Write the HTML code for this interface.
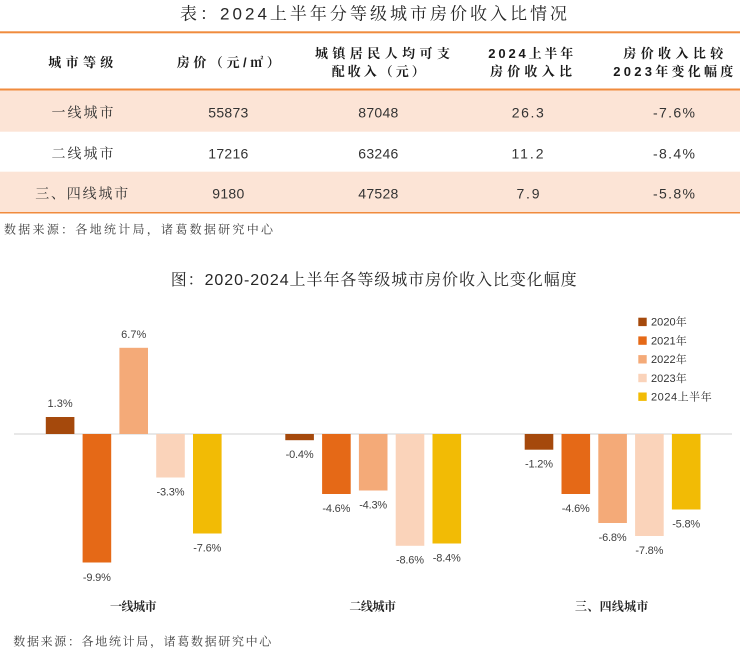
<!DOCTYPE html>
<html>
<head>
<meta charset="utf-8">
<style>
html,body{margin:0;padding:0;background:#fff;}
svg{display:block;}
text{font-family:"Liberation Sans","Noto Serif CJK SC","Noto Sans CJK SC",serif;}
</style>
</head>
<body>
<svg width="740" height="654" viewBox="0 0 740 654" xmlns="http://www.w3.org/2000/svg">
  <rect x="0" y="0" width="740" height="654" fill="#ffffff"/>

  <!-- Table title -->
  <text x="180" y="19.5" font-size="17" fill="#262626" textLength="387" lengthAdjust="spacing">表：2024上半年分等级城市房价收入比情况</text>

  <!-- Table backgrounds -->
  <rect x="0" y="90.5" width="740" height="41.2" fill="#FCE4D6"/>
  <rect x="0" y="171.7" width="740" height="40.5" fill="#FCE4D6"/>
  <!-- Table lines -->
  <rect x="0" y="31.3" width="740" height="2" fill="#F08B3D"/>
  <rect x="0" y="88.5" width="740" height="2" fill="#F08B3D"/>
  <rect x="0" y="212" width="740" height="1.5" fill="#F08B3D"/>

  <!-- Header -->
  <g font-size="13" font-weight="bold" fill="#1a1a1a" text-anchor="middle">
    <text x="80.8" y="66.8" textLength="65" lengthAdjust="spacing">城市等级</text>
    <text x="228.3" y="66.8" textLength="103" lengthAdjust="spacing">房价（元/㎡）</text>
    <text x="382.5" y="57.8" textLength="135" lengthAdjust="spacing">城镇居民人均可支</text>
    <text x="378.3" y="76.2" textLength="93" lengthAdjust="spacing">配收入（元）</text>
    <text x="530.8" y="57.8" textLength="85" lengthAdjust="spacing">2024上半年</text>
    <text x="531" y="76.2" textLength="82" lengthAdjust="spacing">房价收入比</text>
    <text x="673.3" y="57.8" textLength="100" lengthAdjust="spacing">房价收入比较</text>
    <text x="673.3" y="76.2" textLength="120" lengthAdjust="spacing">2023年变化幅度</text>
  </g>

  <!-- Rows -->
  <g font-size="14" fill="#333333" text-anchor="middle">
    <text x="82.5" y="117.3" textLength="62" lengthAdjust="spacing">一线城市</text>
    <text x="228.3" y="117.3" textLength="40" lengthAdjust="spacing">55873</text>
    <text x="378.3" y="117.3" textLength="40" lengthAdjust="spacing">87048</text>
    <text x="527.8" y="117.3" textLength="32" lengthAdjust="spacing">26.3</text>
    <text x="674" y="117.3" textLength="42" lengthAdjust="spacing">-7.6%</text>

    <text x="82.5" y="158.3" textLength="62" lengthAdjust="spacing">二线城市</text>
    <text x="228.3" y="158.3" textLength="40" lengthAdjust="spacing">17216</text>
    <text x="378.3" y="158.3" textLength="40" lengthAdjust="spacing">63246</text>
    <text x="527.5" y="158.3" textLength="32" lengthAdjust="spacing">11.2</text>
    <text x="674" y="158.3" textLength="42" lengthAdjust="spacing">-8.4%</text>

    <text x="81.7" y="198.3" textLength="93" lengthAdjust="spacing">三、四线城市</text>
    <text x="228.3" y="198.3" textLength="32" lengthAdjust="spacing">9180</text>
    <text x="378.3" y="198.3" textLength="40" lengthAdjust="spacing">47528</text>
    <text x="528" y="198.3" textLength="23" lengthAdjust="spacing">7.9</text>
    <text x="674" y="198.3" textLength="42" lengthAdjust="spacing">-5.8%</text>
  </g>

  <!-- Source 1 -->
  <text x="4" y="233.5" font-size="12" fill="#404040" textLength="269" lengthAdjust="spacing">数据来源：各地统计局，诸葛数据研究中心</text>

  <!-- Chart title -->
  <text x="170.7" y="285" font-size="16" fill="#262626" textLength="406" lengthAdjust="spacing">图：2020-2024上半年各等级城市房价收入比变化幅度</text>

  <!-- Legend -->
  <g font-size="11" fill="#333333">
    <rect x="638.3" y="317.7" width="8.4" height="8.4" fill="#A5490C"/>
    <text x="651" y="325.7" textLength="35.7" lengthAdjust="spacing">2020年</text>
    <rect x="638.3" y="336.4" width="8.4" height="8.4" fill="#E56917"/>
    <text x="651" y="344.4" textLength="35.7" lengthAdjust="spacing">2021年</text>
    <rect x="638.3" y="355.1" width="8.4" height="8.4" fill="#F4AA78"/>
    <text x="651" y="363.1" textLength="35.7" lengthAdjust="spacing">2022年</text>
    <rect x="638.3" y="373.8" width="8.4" height="8.4" fill="#FAD3BA"/>
    <text x="651" y="381.8" textLength="35.7" lengthAdjust="spacing">2023年</text>
    <rect x="638.3" y="392.5" width="8.4" height="8.4" fill="#F2BB05"/>
    <text x="651" y="400.5" textLength="60.7" lengthAdjust="spacing">2024上半年</text>
  </g>

  <!-- Axis -->
  <line x1="14" y1="434" x2="732" y2="434" stroke="#D9D9D9" stroke-width="1.2"/>

  <!-- Bars group 1 (center 133.7) -->
  <g>
    <rect x="45.8" y="417" width="28.6" height="17" fill="#A5490C"/>
    <rect x="82.6" y="434" width="28.6" height="128.5" fill="#E56917"/>
    <rect x="119.4" y="347.8" width="28.6" height="86.2" fill="#F4AA78"/>
    <rect x="156.2" y="434" width="28.6" height="43.5" fill="#FAD3BA"/>
    <rect x="193" y="434" width="28.6" height="99.5" fill="#F2BB05"/>
  </g>
  <!-- Bars group 2 (center 373.2) -->
  <g>
    <rect x="285.3" y="434" width="28.6" height="6.2" fill="#A5490C"/>
    <rect x="322.1" y="434" width="28.6" height="60" fill="#E56917"/>
    <rect x="358.9" y="434" width="28.6" height="56.5" fill="#F4AA78"/>
    <rect x="395.7" y="434" width="28.6" height="111.8" fill="#FAD3BA"/>
    <rect x="432.5" y="434" width="28.6" height="109.5" fill="#F2BB05"/>
  </g>
  <!-- Bars group 3 (center 612.6) -->
  <g>
    <rect x="524.7" y="434" width="28.6" height="15.7" fill="#A5490C"/>
    <rect x="561.5" y="434" width="28.6" height="60" fill="#E56917"/>
    <rect x="598.3" y="434" width="28.6" height="89" fill="#F4AA78"/>
    <rect x="635.1" y="434" width="28.6" height="102" fill="#FAD3BA"/>
    <rect x="671.9" y="434" width="28.6" height="75.5" fill="#F2BB05"/>
  </g>

  <!-- Data labels -->
  <g font-size="11" fill="#404040" text-anchor="middle">
    <text x="60.1" y="407">1.3%</text>
    <text x="96.9" y="581" textLength="28" lengthAdjust="spacing">-9.9%</text>
    <text x="133.7" y="338">6.7%</text>
    <text x="170.5" y="495.5" textLength="28" lengthAdjust="spacing">-3.3%</text>
    <text x="207.3" y="551.5" textLength="28" lengthAdjust="spacing">-7.6%</text>

    <text x="299.6" y="458" textLength="28" lengthAdjust="spacing">-0.4%</text>
    <text x="336.4" y="512" textLength="28" lengthAdjust="spacing">-4.6%</text>
    <text x="373.2" y="508.5" textLength="28" lengthAdjust="spacing">-4.3%</text>
    <text x="410" y="563.5" textLength="28" lengthAdjust="spacing">-8.6%</text>
    <text x="446.8" y="561.5" textLength="28" lengthAdjust="spacing">-8.4%</text>

    <text x="539" y="467.5" textLength="28" lengthAdjust="spacing">-1.2%</text>
    <text x="575.8" y="512" textLength="28" lengthAdjust="spacing">-4.6%</text>
    <text x="612.6" y="541" textLength="28" lengthAdjust="spacing">-6.8%</text>
    <text x="649.4" y="554" textLength="28" lengthAdjust="spacing">-7.8%</text>
    <text x="686.2" y="527.5" textLength="28" lengthAdjust="spacing">-5.8%</text>
  </g>

  <!-- Category labels -->
  <g font-size="12" font-weight="bold" fill="#262626" text-anchor="middle">
    <text x="133.3" y="610.3" textLength="46.7" lengthAdjust="spacing">一线城市</text>
    <text x="372.7" y="610.3" textLength="46.7" lengthAdjust="spacing">二线城市</text>
    <text x="611.7" y="610.3" textLength="73.3" lengthAdjust="spacing">三、四线城市</text>
  </g>

  <!-- Source 2 -->
  <text x="13.3" y="645.5" font-size="12" fill="#404040" textLength="258" lengthAdjust="spacing">数据来源：各地统计局，诸葛数据研究中心</text>
</svg>
</body>
</html>
